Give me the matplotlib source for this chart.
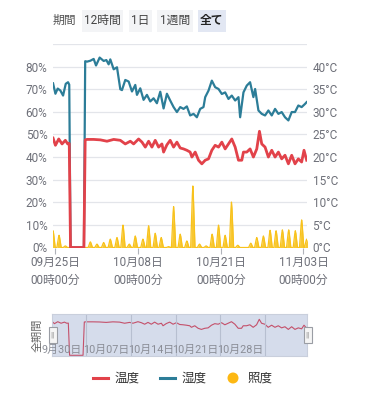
import matplotlib
matplotlib.use('Agg')
import matplotlib.pyplot as plt
from matplotlib.patches import Rectangle, Ellipse
from matplotlib.lines import Line2D
import numpy as np

plt.rcParams['font.family'] = ['Roboto', 'Noto Sans CJK JP', 'DejaVu Sans']

# days counted from 09/25 00:00
hum_days = [-0.29, 0.08, 0.44, 0.86, 1.28, 1.70, 2.06, 2.25, 2.45, 4.55, 4.75,
            5.04, 5.56, 6.08, 6.45, 7.02, 7.65, 8.07, 8.43, 8.69, 9.22, 9.74,
            10.26, 10.52, 11.04, 11.57, 12.09, 12.61, 12.87, 13.39, 13.91, 14.44,
            14.96, 15.48, 16.00, 16.53, 17.05, 17.57, 18.09, 18.62, 19.14, 19.66,
            20.18, 20.70, 21.22, 21.75, 22.27, 22.79, 23.31, 23.58, 24.10, 24.62,
            25.14, 25.67, 26.19, 26.71, 27.23, 27.75, 28.28, 28.80, 29.06, 29.58,
            30.10, 30.62, 31.14, 31.41, 31.93, 32.45, 32.97, 33.49, 34.02, 34.54,
            35.06, 35.58, 36.10, 36.63, 37.15, 37.67, 38.19, 38.71, 39.24, 39.50]
humidity = [72.6, 68.0, 70.3, 69.4, 67.2, 72.4, 73.1, 72.0, 0, 0, 82.4,
            82.2, 82.6, 83.4, 80.5, 84.0, 82.5, 82.9, 81.0, 83.2, 78.8, 79.7,
            70.0, 69.6, 74.1, 73.4, 69.0, 71.9, 67.5, 70.4, 65.3, 67.5,
            64.6, 66.0, 63.8, 68.9, 61.5, 68.0, 65.0, 62.1, 59.9, 62.1,
            61.3, 62.4, 58.4, 59.1, 57.6, 61.3, 62.1, 66.5, 69.4, 73.8,
            70.9, 70.1, 67.9, 68.6, 65.7, 67.2, 65.0, 66.5, 57.6, 68.6,
            71.6, 73.1, 66.5, 70.1, 60.6, 59.1, 58.4, 60.6, 58.4, 61.3,
            59.1, 59.9, 57.6, 56.2, 59.9, 59.9, 62.8, 62.1, 63.5, 64.3]

temp_days = [-0.29, 0.08, 0.60, 1.12, 1.64, 2.01, 2.25, 2.45, 4.55, 4.75,
             5.04, 6.08, 7.13, 8.17, 9.22, 10.26, 11.04, 11.83, 12.35, 13.13,
             13.66, 14.18, 14.70, 15.22, 15.74, 16.27, 16.79, 17.05, 17.57, 18.09,
             18.62, 19.14, 19.66, 20.18, 20.70, 21.22, 21.49, 22.01, 22.53, 23.05,
             23.58, 24.10, 24.62, 25.14, 25.67, 26.19, 26.71, 27.23, 27.75, 28.28,
             28.80, 29.32, 29.58, 30.10, 30.62, 31.14, 31.67, 32.09, 32.45, 32.97,
             33.49, 34.02, 34.54, 35.06, 35.58, 36.10, 36.63, 37.15, 37.67, 38.19,
             38.71, 39.08, 39.50]
temperature = [24.2, 22.6, 24.0, 22.9, 23.7, 22.9, 23.0, 0, 0, 23.8,
               23.9, 23.9, 23.8, 23.5, 23.9, 23.7, 22.9, 23.5, 22.9, 24.0,
               23.3, 22.2, 23.5, 22.2, 23.7, 22.2, 22.9, 21.1, 22.7, 23.7,
               22.2, 23.3, 22.0, 21.8, 21.5, 21.1, 20.0, 21.1, 19.3, 18.5,
               19.3, 19.6, 21.5, 22.6, 22.2, 23.3, 21.8, 22.9, 24.0, 22.2,
               19.3, 19.3, 21.1, 21.1, 21.8, 20.0, 21.8, 25.7, 22.9, 22.2,
               20.0, 21.5, 20.0, 21.1, 19.6, 20.4, 18.5, 20.4, 18.5, 19.6,
               18.9, 21.5, 19.3]

# daily illuminance peaks (%)
illum_peak_days = [-0.29, 0.65, 1.64, 5.56, 6.60, 7.65, 8.69, 9.74, 10.68, 11.67,
                   12.61, 13.81, 14.70, 15.74, 16.68, 17.83, 18.62, 19.66, 20.70,
                   21.64, 22.69, 23.73, 24.67, 25.67, 26.71, 27.70, 28.69, 29.84,
                   30.73, 31.67, 32.71, 33.76, 34.70, 35.69, 36.68, 37.72, 38.71, 39.50]
illum_peaks = [7.4, 5.4, 0.7, 2.5, 1.5, 2.2, 3.7, 4.4, 9.9, 1.5,
               5.1, 3.7, 9.6, 6.3, 4.4, 0.4, 18.1, 5.9, 2.9,
               27.2, 1.5, 0.7, 5.9, 9.9, 5.4, 20.1, 1.0, 0.0,
               1.9, 4.4, 5.1, 7.6, 7.4, 7.8, 7.8, 7.4, 12.2, 3.7]

xtick_days = [0, 13, 26, 39]
xtick_labels = ['09月25日\n00時00分', '10月08日\n00時00分', '10月21日\n00時00分', '11月03日\n00時00分']
left_ticks = [0, 10, 20, 30, 40, 50, 60, 70, 80]
right_ticks = [0, 5, 10, 15, 20, 25, 30, 35, 40]
nav_days = [5, 12, 19, 26, 33]
nav_labels = ['9月30日', '10月07日', '10月14日', '10月21日', '10月28日']
buttons = ['12時間', '1日', '1週間', '全て']

RED = '#e2424a'
BLUE = '#2c7d98'
YEL = '#f8c21c'
GRID = '#e3e5ea'
TXT = '#6e7079'

# illuminance as narrow daily spikes with slightly rounded tops
ill_x, ill_y = [], []
for d, v in zip(illum_peak_days, illum_peaks):
    ill_x += [d - 0.34, d - 0.08, d, d + 0.08, d + 0.34]
    ill_y += [0, v * 0.85, v, v * 0.85, 0]

fig = plt.figure(figsize=(3.65, 4.0), dpi=100)
W, H = 365, 400

def fx(px):
    return px / W

def fy(py):
    return 1 - py / H

ax = fig.add_axes([fx(53), fy(247.5), fx(307) - fx(53), fy(44) - fy(247.5)])
ax.set_xlim(-0.3, 39.55)
ax.set_ylim(0, 90)
for v in range(0, 100, 10):
    ax.axhline(v, color=GRID, lw=0.9, zorder=0)
ax.fill_between(ill_x, ill_y, color=YEL, alpha=0.9, lw=0, zorder=2)
ax.plot(ill_x, ill_y, color=YEL, lw=0.9, zorder=2)
ax.plot(hum_days, humidity, color=BLUE, lw=1.6, zorder=3)
ax.plot(temp_days, np.array(temperature) * 2, color=RED, lw=2.0, zorder=4)
for s in ax.spines.values():
    s.set_visible(False)
ax.set_yticks(left_ticks)
ax.set_yticklabels([f'{t}%' for t in left_ticks])
ax.tick_params(axis='y', length=0, labelsize=8.5, labelcolor=TXT, pad=4)
ax.set_xticks(xtick_days)
ax.set_xticklabels(xtick_labels)
ax.tick_params(axis='x', length=4, color='#b0b3ba', labelsize=8.5, labelcolor=TXT, pad=2)
for lab in ax.get_xticklabels():
    lab.set_linespacing(1.5)

ax2 = ax.twinx()
ax2.set_ylim(0, 45)
ax2.set_yticks(right_ticks)
ax2.set_yticklabels([f'{t}°C' for t in right_ticks])
ax2.tick_params(axis='y', length=0, labelsize=8.5, labelcolor=TXT, pad=4)
for s in ax2.spines.values():
    s.set_visible(False)

# period buttons
fig.text(fx(53), fy(20), '期間', fontsize=8.5, color='#555', va='center', ha='left')
btn_box = [(82, 123), (129, 152), (157, 193), (198, 226)]
for (x0, x1), name in zip(btn_box, buttons):
    sel = name == '全て'
    fig.patches.append(Rectangle((fx(x0), fy(32)), fx(x1) - fx(x0), fy(10) - fy(32),
                                 transform=fig.transFigure,
                                 facecolor='#e2e7f3' if sel else '#f3f4f6', edgecolor='none'))
    fig.text(fx((x0 + x1) / 2), fy(20.5), name, fontsize=8.5, color='#222' if sel else '#444',
             fontweight='bold' if sel else 'normal', ha='center', va='center')

# navigator
nav = fig.add_axes([fx(52), fy(356), fx(307) - fx(52), fy(314) - fy(356)])
nav.set_xlim(-0.3, 39.55)
nav.set_ylim(-0.5, 29.5)
nav.set_facecolor('#d5dceb')
nav.plot(temp_days, temperature, color='#c4506a', lw=0.8)
for d in nav_days:
    nav.axvline(d, color='#b7bfd0', lw=0.8)
for d, lab in zip(nav_days, nav_labels):
    nav.text(d - 3.85, 3.5, lab, fontsize=7.8, color='#8a8d96', ha='center', va='center')
nav.set_xticks([])
nav.set_yticks([])
for s in nav.spines.values():
    s.set_color('#c9cfdc')
    s.set_linewidth(0.8)
for hx in (48.5, 303.5):
    fig.patches.append(Rectangle((fx(hx), fy(343)), fx(8), fy(327) - fy(343),
                                 transform=fig.transFigure, facecolor='#f5f5f5',
                                 edgecolor='#9a9da4', lw=0.8, zorder=5))
    fig.text(fx(hx + 4), fy(335), '||', fontsize=6, color='#888', ha='center', va='center', zorder=6)
fig.text(fx(37), fy(335), '全期間', fontsize=8, color='#666', rotation=90, ha='center', va='center')

# legend
fig.add_artist(Line2D([fx(93), fx(108)], [fy(378), fy(378)], color=RED, lw=2.2,
                      transform=fig.transFigure))
fig.text(fx(115), fy(378), '温度', fontsize=9, color='#333', va='center', ha='left')
fig.add_artist(Line2D([fx(160), fx(175)], [fy(378), fy(378)], color=BLUE, lw=2.2,
                      transform=fig.transFigure))
fig.text(fx(182), fy(378), '湿度', fontsize=9, color='#333', va='center', ha='left')
fig.patches.append(Ellipse((fx(233), fy(378)), 11 / W, 11 / H, transform=fig.transFigure,
                           facecolor='#fdb813', edgecolor='none'))
fig.text(fx(247), fy(378), '照度', fontsize=9, color='#333', va='center', ha='left')

fig.savefig('out.png', dpi=100)
